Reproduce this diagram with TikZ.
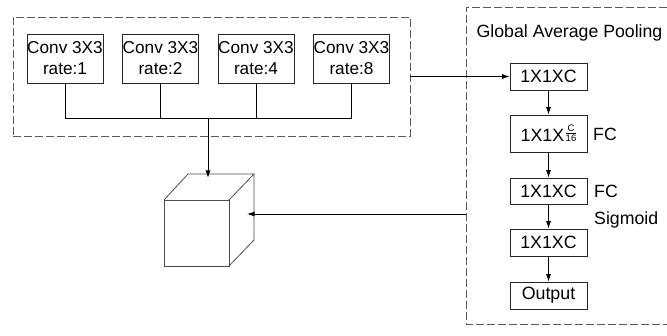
\documentclass[tikz,border=0pt]{standalone}
\usepackage{fontspec}
\setmainfont{Liberation Sans}
\usetikzlibrary{arrows.meta}
\newcommand{\smallfrac}{\kern1.5pt\vbox{\offinterlineskip\fontsize{9.5}{9.5}\selectfont\hbox to 10.6pt{\hss C\hss}\kern1.2pt\hrule height 0.5pt\kern1.2pt\hbox to 10.6pt{\hss 16\hss}}}
\tikzset{
  convbox/.style={draw=black!85, line width=0.8pt, minimum width=76pt, minimum height=49pt, inner sep=0pt, align=center, font=\fontsize{17.2}{21}\selectfont},
  sebox/.style={draw=black!85, line width=0.8pt, minimum width=77pt, inner sep=0pt, font=\fontsize{17.8}{20}\selectfont},
  lbl/.style={anchor=west, inner sep=0pt, font=\fontsize{17.7}{20}\selectfont},
  grp/.style={draw=black!65, line width=0.8pt, dash pattern=on 8pt off 3pt},
  conn/.style={draw=black, line width=0.8pt},
  arr/.style={conn, -{Latex[length=7.5pt,width=5pt]}},
  cubeline/.style={draw=black!70, line width=0.8pt, line join=miter}
}
\begin{document}
\begin{tikzpicture}[x=1pt, y=-1pt]
\useasboundingbox (0,0) rectangle (667,336);
% left group
\node[grp, minimum width=397pt, minimum height=119pt, inner sep=0pt] (left) at (211.5,76.5) {};
\node[convbox] (c1) at (65,58.5) {Conv 3X3\\rate:1};
\node[convbox] (c2) at (160.5,58.5) {Conv 3X3\\rate:2};
\node[convbox] (c3) at (256,58.5) {Conv 3X3\\rate:4};
\node[convbox] (c4) at (351.5,58.5) {Conv 3X3\\rate:8};
\coordinate (j1) at (65,118);
\coordinate (j4) at (351.5,118);
\coordinate (jm) at (208,118);
\draw[conn] (c1.south) -- (j1) -- (j4) -- (c4.south);
\draw[conn] (c2.south) -- (c2.south |- j1);
\draw[conn] (c3.south) -- (c3.south |- j1);
% right group (open to the right)
\coordinate (rtr) at (667,7);
\coordinate (rtl) at (466,7);
\coordinate (rbl) at (466,324);
\coordinate (rbr) at (667,324);
\draw[grp] (rtr) -- (rtl) -- (rbl) -- (rbr);
\node[lbl] (gap) at (476.5,33) {Global Average Pooling};
\node[sebox, minimum height=27pt] (b1) at (548.5,76.5) {1X1XC};
\node[sebox, minimum height=37pt] (b2) at (548.5,133.5) {1X1X\smallfrac};
\node[sebox, minimum height=26pt] (b3) at (548.5,191) {1X1XC};
\node[sebox, minimum height=27pt] (b4) at (548.5,242.5) {1X1XC};
\node[sebox, minimum height=27pt] (b5) at (548.5,295.5) {Output};
\node[lbl] (fc1) at (593,134) {FC};
\node[lbl] (fc2) at (594,191) {FC};
\node[lbl] (sig) at (594,220) {Sigmoid};
\draw[arr] (b1) -- (b2);
\draw[arr] (b2) -- (b3);
\draw[arr] (b3) -- (b4);
\draw[arr] (b4) -- (b5);
% cube
\coordinate (fa) at (164,200);
\coordinate (fb) at (229,200);
\coordinate (fc) at (229,266);
\coordinate (fd) at (164,266);
\coordinate (ba) at (188,174);
\coordinate (bb) at (254,174);
\coordinate (bc) at (254,240);
\draw[cubeline] (fa) rectangle (fc);
\draw[cubeline] (fa) -- (ba) -- (bb) -- (fb);
\draw[cubeline] (bb) -- (bc) -- (fc);
\coordinate (cubetop) at (208,178);
\coordinate (cuberight) at (247,214);
\coordinate (rin) at (466,214);
% connectors between groups
\draw[arr] (jm) -- (cubetop);
\draw[arr] (left.east |- b1.west) -- (b1.west);
\draw[arr] (rin) -- (cuberight);
\end{tikzpicture}
\end{document}
